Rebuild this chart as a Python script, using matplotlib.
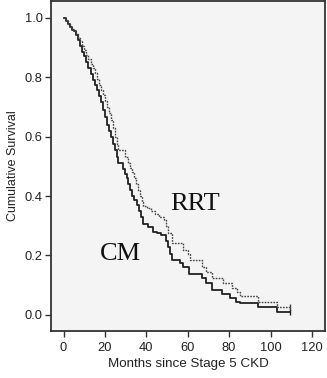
import matplotlib
matplotlib.use("Agg")
import matplotlib.pyplot as plt

# Kaplan-Meier step data (months, cumulative survival)
cm_time = [0, 1, 2, 3, 4, 5, 6, 7, 8, 9, 10, 11, 12, 13, 14, 15, 16, 17, 18, 19, 20, 21,
           22, 23, 24, 25, 26, 26.5, 28.5, 29.5, 30.5, 31.2, 32, 33, 34, 35.5, 36.5, 37.5,
           38.5, 41, 43, 45, 47, 49.5, 50.5, 51.5, 52.2, 56.2, 57.5, 60.5, 66.7, 69, 71.5,
           76.3, 80.4, 83.5, 85.2, 94, 102.9, 109.5]
cm_surv = [1.0, 0.99, 0.98, 0.97, 0.96, 0.955, 0.94, 0.925, 0.905, 0.885, 0.87, 0.85, 0.83,
           0.81, 0.79, 0.775, 0.755, 0.735, 0.715, 0.69, 0.665, 0.64, 0.62, 0.6, 0.575, 0.555,
           0.53, 0.51, 0.49, 0.475, 0.46, 0.44, 0.42, 0.4, 0.385, 0.37, 0.35, 0.33, 0.305,
           0.297, 0.28, 0.275, 0.269, 0.25, 0.23, 0.205, 0.185, 0.174, 0.162, 0.138, 0.123,
           0.107, 0.084, 0.07, 0.056, 0.045, 0.039, 0.026, 0.011, 0.011]

rrt_time = [0, 1, 2, 3, 4, 5, 6, 7, 8, 9, 10, 11, 12, 13, 14, 15, 16, 17, 18, 19, 20, 21,
            22, 23, 24, 25, 26, 26.5, 29.6, 31, 32, 33, 34, 35, 36, 37, 38, 38.5, 40.5, 42,
            44, 46, 48.5, 49.5, 50.5, 52.2, 57.8, 60.2, 61, 66.7, 69, 71.5, 76.8, 81.2, 83.6,
            85.2, 94, 102.9, 109.5]
rrt_surv = [1.0, 0.99, 0.98, 0.97, 0.96, 0.955, 0.945, 0.93, 0.92, 0.905, 0.89, 0.875, 0.86,
            0.845, 0.83, 0.815, 0.795, 0.775, 0.755, 0.74, 0.72, 0.7, 0.68, 0.655, 0.63, 0.6,
            0.575, 0.555, 0.53, 0.51, 0.495, 0.48, 0.46, 0.44, 0.42, 0.4, 0.38, 0.368, 0.36,
            0.35, 0.34, 0.33, 0.32, 0.3, 0.275, 0.241, 0.218, 0.205, 0.185, 0.162, 0.146,
            0.123, 0.107, 0.09, 0.078, 0.065, 0.045, 0.028, 0.028]

x_ticks = [0, 20, 40, 60, 80, 100, 120]
y_ticks = [0.0, 0.2, 0.4, 0.6, 0.8, 1.0]

plt.rcParams['font.family'] = ['Liberation Sans', 'DejaVu Sans']

fig = plt.figure(figsize=(3.27, 3.78), dpi=100)
ax = fig.add_axes([51/327, 1 - 331/378, 274/327, 330/378])
ax.set_facecolor('#f4f4f4')

ax.plot(cm_time, cm_surv, drawstyle='steps-post', color='#222222', lw=1.3)
ax.plot(rrt_time, rrt_surv, drawstyle='steps-post', color='#444444', lw=1.0,
        linestyle=(0, (1.2, 0.9)))
# censor marks at the end
ax.plot([cm_time[-1]], [cm_surv[-1]], marker='|', color='#222222', ms=5, mew=1.0)
ax.plot([rrt_time[-1]], [rrt_surv[-1]], marker='|', color='#444444', ms=5, mew=1.0)

ax.set_xlim(-6.1, 126.3)
ax.set_ylim(-0.054, 1.056)
ax.set_xticks(x_ticks)
ax.set_yticks(y_ticks)
ax.set_yticklabels([f"{v:.1f}" for v in y_ticks])
ax.tick_params(axis='both', direction='out', length=4, width=1.0, color='#333333',
               labelsize=9.3, labelcolor='#222222', pad=2)
ax.tick_params(axis='x', pad=4)

for s in ax.spines.values():
    s.set_color('#333333')
    s.set_linewidth(1.3)

ax.set_xlabel('Months since Stage 5 CKD', fontsize=9.6, color='#222222', labelpad=3)
ax.set_ylabel('Cumulative Survival', fontsize=9, color='#222222', labelpad=4)

ax.text(51.4, 0.353, 'RRT', family=['Liberation Serif', 'DejaVu Serif'], fontsize=19,
        color='#111111', ha='left', va='baseline')
ax.text(17.5, 0.185, 'CM', family=['Liberation Serif', 'DejaVu Serif'], fontsize=19,
        color='#111111', ha='left', va='baseline')

fig.savefig('out.png', dpi=100)
